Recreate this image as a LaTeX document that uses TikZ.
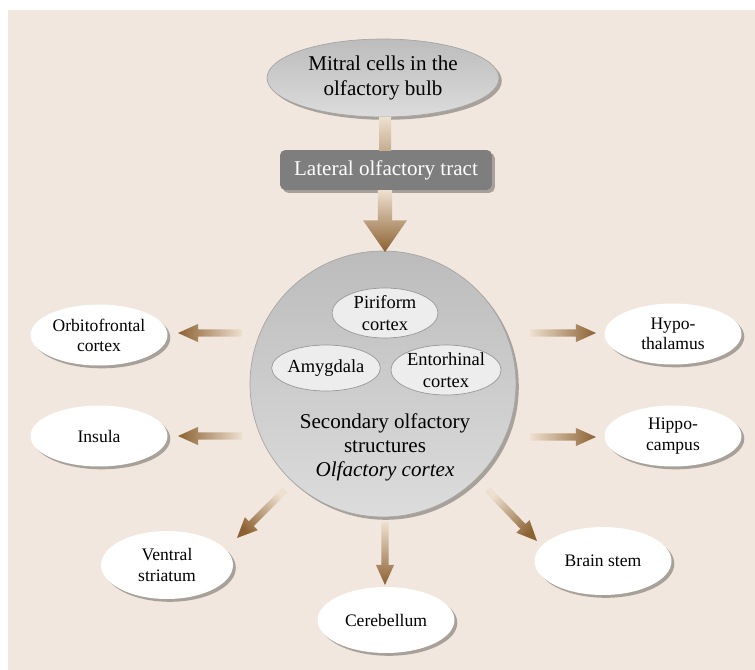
\documentclass[tikz,border=0pt]{standalone}
\usepackage{fontspec}
\setmainfont{Liberation Serif}
\usetikzlibrary{shapes.geometric,shadows,calc}

\definecolor{bgcol}{HTML}{F1E7DE}
\definecolor{arrowdark}{HTML}{8C6132}
\definecolor{arrowlight}{HTML}{EEE0D0}
\definecolor{graytop}{HTML}{BCBCBC}
\definecolor{graybot}{HTML}{DCDCDC}
\definecolor{innergray}{HTML}{EDEDED}
\definecolor{tractgray}{HTML}{7E7E7E}

\tikzset{
  shadowed/.style={drop shadow={shadow xshift=1.6pt, shadow yshift=-1.6pt, fill=black, opacity=0.3}},
  bigoval/.style={ellipse, shadowed, top color=graytop, bottom color=graybot, draw=gray!70, thin,
    align=center, inner sep=0pt, font=\fontsize{12}{14.5}\selectfont},
  inneroval/.style={ellipse, fill=innergray, draw=gray!80, thin, align=center, inner sep=0pt,
    minimum width=2.16cm, minimum height=1cm, font=\fontsize{10.5}{12.5}\selectfont},
  target/.style={ellipse, shadowed, fill=white, draw=none, align=center, inner sep=0pt,
    minimum width=2.74cm, minimum height=1.22cm, font=\fontsize{10}{11.5}\selectfont},
}

% thick shaded arrow: from, to, shaft half width, head half width, head length
\newcommand{\fatarrow}[5]{%
  \path let \p1=($(#2)-(#1)$) in \pgfextra{%
    \pgfmathparse{atan2(\y1,\x1)}\xdef\arrang{\pgfmathresult}%
    \pgfmathparse{veclen(\x1,\y1)}\xdef\arrlen{\pgfmathresult}};
  \shade[shift={(#1)}, rotate=\arrang, top color=arrowlight, bottom color=arrowdark,
    shading angle=\arrang+90]
    (0pt,-#3) -- (\arrlen pt-#5,-#3) -- (\arrlen pt-#5,-#4) -- (\arrlen pt,0pt)
    -- (\arrlen pt-#5,#4) -- (\arrlen pt-#5,#3) -- (0pt,#3) -- cycle;
}

\begin{document}
\begin{tikzpicture}[x=0.02cm, y=-0.02cm]
  \useasboundingbox (0,0) rectangle (755,670);
  \fill[bgcol] (8,10) rectangle (755,670);

  % top of the pathway
  \node[bigoval, minimum width=4.64cm, minimum height=1.56cm] (mitral) at (383,78)
    {Mitral cells in the\\olfactory bulb};
  \node[shadowed, fill=tractgray, rounded corners=3pt, text=white, minimum width=4.24cm,
    minimum height=0.8cm, inner sep=0pt, font=\fontsize{12}{14}\selectfont] (tract) at (386,170)
    {Lateral olfactory tract};

  % olfactory cortex
  \node[bigoval, circle, minimum size=5.32cm] (cortex) at (383,384) {};
  \node[inneroval, minimum width=2.12cm] (piri) at (385,313) {Piriform\\cortex};
  \node[inneroval, minimum height=0.92cm] (amyg) at (326,368) {Amygdala};
  \node[inneroval] (ento) at (446,370) {Entorhinal\\cortex};
  \node[align=center, font=\fontsize{12}{13.7}\selectfont] (cortexlabel) at (385,447)
    {Secondary olfactory\\structures\\\textit{Olfactory cortex}};

  % targets
  \node[target] (orbito) at (99,335) {Orbitofrontal\\cortex};
  \node[target] (insula) at (99,436) {Insula};
  \node[target] (hypo) at (673,334) {Hypo-\\thalamus};
  \node[target] (hippo) at (673,436) {Hippo-\\campus};
  \node[target, minimum width=2.64cm, minimum height=1.36cm] (ventral) at (167,565) {Ventral\\striatum};
  \node[target, minimum height=1.32cm] (cereb) at (386,620) {Cerebellum};
  \node[target, minimum height=1.36cm] (stem) at (603,561) {Brain stem};

  % arrow ends
  \coordinate (mitralout) at (385,117);
  \coordinate (tractin) at (385,150);
  \coordinate (tractout) at (385,190);
  \coordinate (cortexin) at (385,252);
  \coordinate (orbitos) at (242,333);  \coordinate (orbitoe) at (178,333);
  \coordinate (insulas) at (242,436);  \coordinate (insulae) at (178,436);
  \coordinate (hypos) at (530,333);    \coordinate (hypoe) at (596,333);
  \coordinate (hippos) at (530,437);   \coordinate (hippoe) at (596,437);
  \coordinate (ventrals) at (285,490); \coordinate (ventrale) at (237,538);
  \coordinate (cerebs) at (385,522);   \coordinate (cerebe) at (385,585);
  \coordinate (stems) at (488,490);    \coordinate (steme) at (537,541);

  \shade[top color=arrowlight, bottom color=arrowdark!40!arrowlight]
    ($(mitralout)+(-6,0)$) rectangle ($(tractin)+(6,0)$);
  \fatarrow{tractout}{cortexin}{4pt}{12.5pt}{18pt}
  \foreach \s/\e in {orbitos/orbitoe, insulas/insulae, hypos/hypoe, hippos/hippoe,
    ventrals/ventrale, cerebs/cerebe, stems/steme}
    {\fatarrow{\s}{\e}{2pt}{5.2pt}{11.5pt}}
\end{tikzpicture}
\end{document}
